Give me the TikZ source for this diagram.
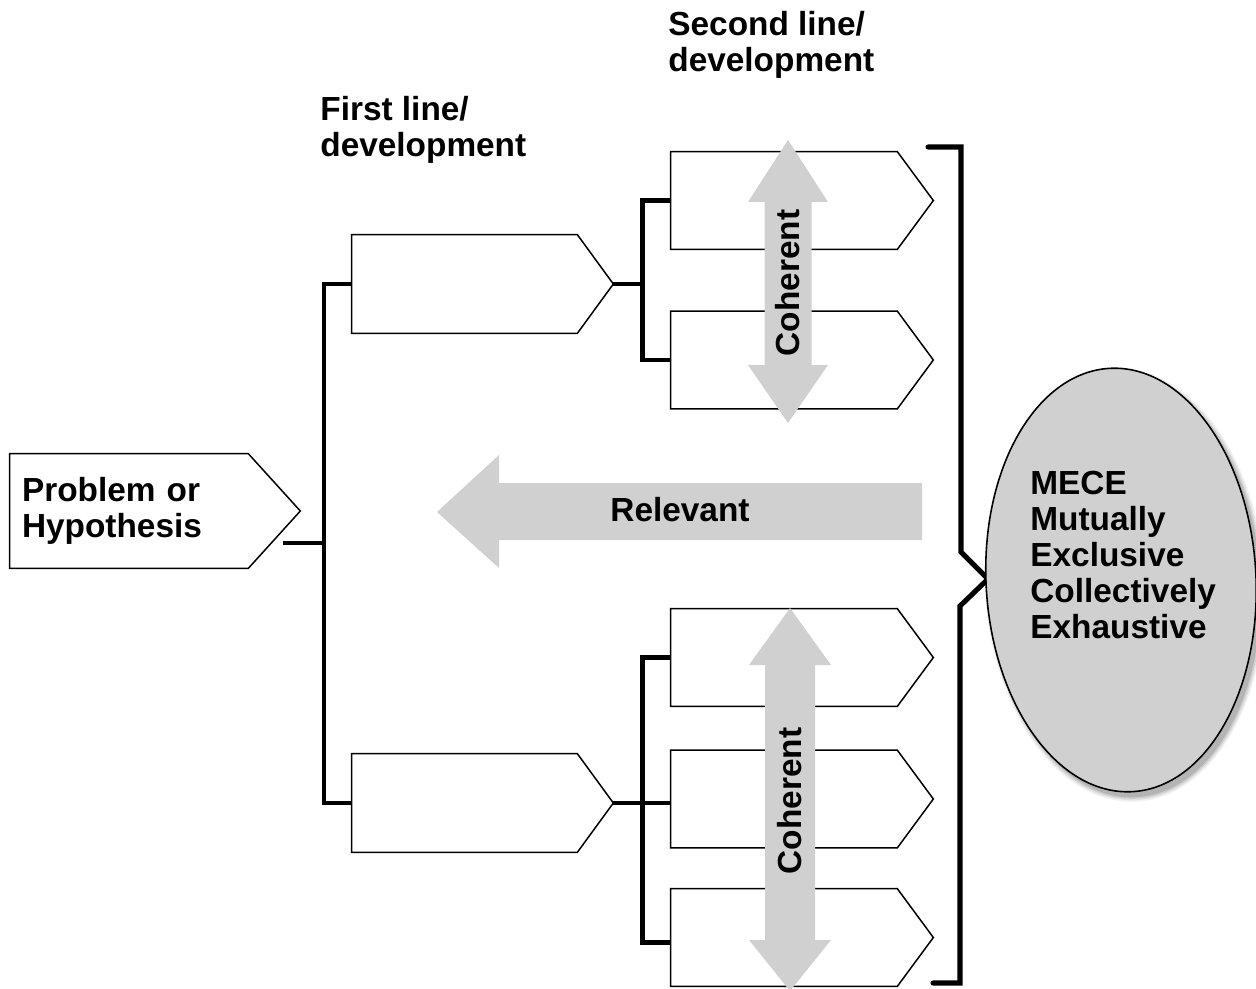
\documentclass[tikz,border=0pt]{standalone}
\usepackage{fontspec}
\setmainfont{Liberation Sans}
\usetikzlibrary{calc,shapes.geometric}
\definecolor{bandgray}{RGB}{208,208,208}
\definecolor{ovalgray}{RGB}{208,208,208}
\begin{document}
\begin{tikzpicture}[x=0.02cm, y=-0.02cm,
  every node/.style={font=\bfseries\fontsize{19}{20.6}\selectfont},
  boxnode/.style={rectangle, inner sep=0pt, draw=none},
  firstbox/.style={boxnode, minimum width=4.5cm, minimum height=1.96cm},
  secondbox/.style={boxnode, minimum width=4.52cm, minimum height=1.94cm},
  outline/.style={draw=black, line width=0.85pt, line join=miter},
  conn/.style={draw=black, line width=2.6pt, line join=miter},
  brace/.style={draw=black, line width=2.9pt, line cap=round, line join=miter},
  band/.style={fill=bandgray, draw=none},
  lbl/.style={inner sep=0pt, align=left}
]
\useasboundingbox (0,0) rectangle (1256,989);

% ---- column headings
\node[lbl, anchor=north west] (head1) at (320,96) {First line/\\development};
\node[lbl, anchor=north west] (head2) at (668,11) {Second line/\\development};

% ---- tree nodes (rectangular body; pointed tip is added by the outline)
\node[boxnode, minimum width=4.76cm, minimum height=2.28cm, text width=4.28cm, align=left] (prob) at (129,511) {Problem or\\Hypothesis};
\node[firstbox] (f1) at (464.5,284) {};
\node[firstbox] (f2) at (464.5,803) {};
\node[secondbox] (s1) at (784,200.5) {};
\node[secondbox] (s2) at (784,360) {};
\node[secondbox] (s3) at (784,657.5) {};
\node[secondbox] (s4) at (784,799) {};
\node[secondbox] (s5) at (784,937.5) {};

% pentagon outlines
\draw[outline] (prob.north west) -- (prob.north east) -- ($(prob.east)+(52,0)$)
  -- (prob.south east) -- (prob.south west) -- cycle;
\foreach \n in {f1,f2,s1,s2,s3,s4,s5}
  \draw[outline] (\n.north west) -- (\n.north east) -- ($(\n.east)+(36,0)$)
    -- (\n.south east) -- (\n.south west) -- cycle;

% ---- connectors
\coordinate (f1tip) at ($(f1.east)+(36,0)$);
\coordinate (f2tip) at ($(f2.east)+(36,0)$);
\coordinate (probout) at (283,543);
\coordinate (trunk) at (324,543);
\coordinate (upper) at ($(f1tip)+(29,0)$);
\coordinate (lower) at ($(f2tip)+(29,0)$);

\draw[conn] (f1.west) -| (trunk) |- (f2.west);
\draw[conn] (probout) -- (trunk);
\draw[conn] (s1.west) -| (upper) |- (s2.west);
\draw[conn] (f1tip) -- (upper);
\draw[conn] (s3.west) -| (lower) |- ($(s5.west)+(0,5)$);
\draw[conn] (f2tip) -- (f2tip -| s4.west);

% ---- grey arrows
\fill[band] (788,140) -- (828,202) -- (811.5,202) -- (811.5,365) -- (828,365)
  -- (788,423) -- (748,365) -- (764.5,365) -- (764.5,202) -- (748,202) -- cycle;
\node[rotate=90] (coh1) at (788,283) {Coherent};

\fill[band] (790,608) -- (831,665) -- (815,665) -- (815,940) -- (831,940)
  -- (790,991) -- (749,940) -- (765,940) -- (765,665) -- (749,665) -- cycle;
\node[rotate=90] (coh2) at (790,801) {Coherent};

\fill[band] (437,512) -- (499,455) -- (499,483) -- (922,483) -- (922,540)
  -- (499,540) -- (499,568) -- cycle;
\node (rel) at (680,510) {Relevant};

% ---- brace
\draw[brace] (928,147) -- (961,147) -- (961,552) -- (988,579) -- (960,606)
  -- (960,983) -- (933,983);

% ---- MECE oval with soft shadow
\begin{scope}[shift={(1125,585)}, rotate=3]
  \foreach \d/\op in {5/0.05, 3.5/0.07, 2/0.09, 0.5/0.12}
    \fill[black, opacity=\op] (0,0) ellipse [x radius={135+\d}, y radius={212+\d}];
\end{scope}
\node[ellipse, draw=black, line width=0.9pt, fill=ovalgray, minimum width=5.4cm,
  minimum height=8.48cm, inner sep=0pt, rotate=3] (mece) at (1121,580) {};
\node[lbl, anchor=west] (mecetext) at (1030,555)
  {MECE\\Mutually\\Exclusive\\Collectively\\Exhaustive};
\end{tikzpicture}
\end{document}
